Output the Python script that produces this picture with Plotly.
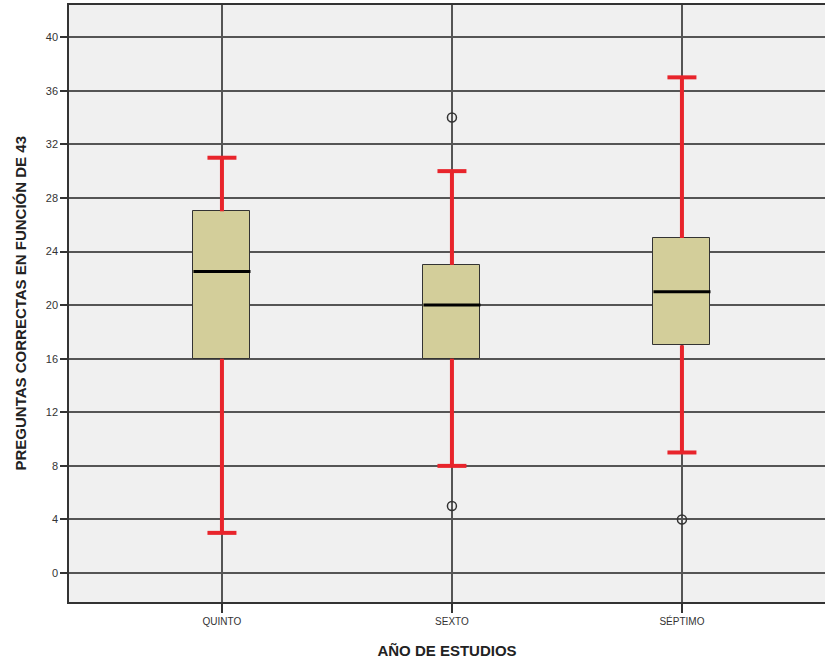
import plotly.graph_objects as go

categories = ["QUINTO", "SEXTO", "SÉPTIMO"]
lower_whisker = [3, 8, 9]
q1 = [16, 16, 17]
median = [22.5, 20, 21]
q3 = [27, 23, 25]
upper_whisker = [31, 30, 37]
outlier_cat = [1, 1, 2]
outlier_val = [34, 5, 4]
y_ticks = [0, 4, 8, 12, 16, 20, 24, 28, 32, 36, 40]

xpos = list(range(len(categories)))
BOX_W = 0.248
CAP_H = 0.063
RED = "#E8242B"

fig = go.Figure()

fig.add_trace(go.Bar(
    x=xpos, y=[b - a for a, b in zip(q1, q3)], base=q1, width=BOX_W,
    marker=dict(color="#D3CE9A", line=dict(color="#333333", width=1)),
    hoverinfo="skip", showlegend=False))

wx, wy = [], []
for i, x in enumerate(xpos):
    wx += [x, x, None, x, x, None]
    wy += [q3[i], upper_whisker[i], None, q1[i], lower_whisker[i], None]
    wx += [x - CAP_H, x + CAP_H, None, x - CAP_H, x + CAP_H, None]
    wy += [upper_whisker[i], upper_whisker[i], None, lower_whisker[i], lower_whisker[i], None]
fig.add_trace(go.Scatter(x=wx, y=wy, mode="lines", line=dict(color=RED, width=4),
                         hoverinfo="skip", showlegend=False))

mx, my = [], []
for i, x in enumerate(xpos):
    mx += [x - BOX_W / 2, x + BOX_W / 2, None]
    my += [median[i], median[i], None]
fig.add_trace(go.Scatter(x=mx, y=my, mode="lines", line=dict(color="#000000", width=3),
                         hoverinfo="skip", showlegend=False))

fig.add_trace(go.Scatter(x=outlier_cat, y=outlier_val, mode="markers",
                         marker=dict(symbol="circle-open", size=9, color="#333333",
                                     line=dict(width=1.5, color="#333333")),
                         showlegend=False))

fig.update_layout(
    width=825, height=665,
    margin=dict(l=69, r=0, t=5, b=63),
    paper_bgcolor="white", plot_bgcolor="#F0F0F0",
    font=dict(family="Liberation Sans, Arial, sans-serif", color="#333333"),
    bargap=0,
    annotations=[dict(
        text="<b>PREGUNTAS CORRECTAS EN FUNCIÓN DE 43</b>", textangle=-90,
        xref="paper", yref="paper", x=0, y=0.5, xanchor="center", yanchor="middle",
        xshift=-49, showarrow=False, font=dict(size=15, color="#222222"))],
)
fig.update_xaxes(
    range=[-0.665, 2.622], tickvals=xpos, ticktext=categories,
    tickfont=dict(size=10, color="#333333"),
    ticks="outside", ticklen=9, tickcolor="#333333", tickwidth=1.5,
    showgrid=True, gridcolor="#555555", gridwidth=1.5,
    showline=True, linecolor="#333333", linewidth=1.5, mirror=True,
    zeroline=False,
    title=dict(text="<b>AÑO DE ESTUDIOS</b>", font=dict(size=15, color="#222222"), standoff=20),
)
fig.update_yaxes(
    range=[-2.16, 42.4], tickvals=y_ticks,
    tickfont=dict(size=11, color="#333333"),
    ticks="outside", ticklen=7, tickcolor="#333333", tickwidth=1.5,
    showgrid=True, gridcolor="#555555", gridwidth=1.5,
    showline=True, linecolor="#333333", linewidth=1.5,
    zeroline=False,
)

fig.write_html("out.html", config={"displayModeBar": False},
               post_script="document.body.style.margin='0';document.body.style.overflow='hidden';")
